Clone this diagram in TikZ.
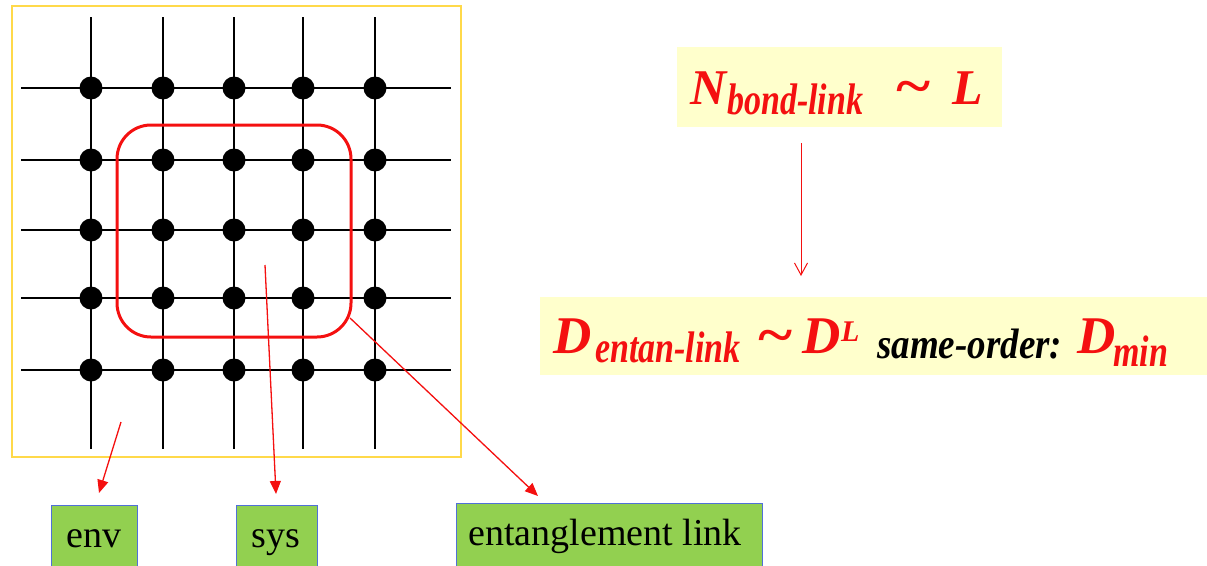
\documentclass[tikz,border=0pt]{standalone}
\usepackage{graphicx}
\usepackage{fontspec}
\setmainfont{Liberation Serif}
\usetikzlibrary{arrows.meta}
\definecolor{lred}{HTML}{F41010}
\definecolor{boxyel}{HTML}{FFFFCC}
\definecolor{frameyel}{HTML}{FFD94A}
\definecolor{lgreen}{HTML}{92D050}
\definecolor{lblue}{HTML}{5070D8}
\newcommand{\mainsym}[1]{{\fontsize{50}{50}\selectfont #1}}
\newcommand{\subtxt}[1]{\scalebox{1}[1.3]{\fontsize{34}{34}\selectfont #1}}
\newcommand{\wtilde}{\scalebox{1.3}[1.1]{\fontsize{50}{50}\selectfont\textasciitilde}}
\begin{document}
\begin{tikzpicture}[x=1pt,y=-1pt,
  gridline/.style={line width=2.6pt,black},
  dot/.style={circle,fill=black,minimum size=23pt,inner sep=0pt},
  label box/.style={draw=lblue,line width=1pt,fill=lgreen,inner sep=0pt},
  label text/.style={inner sep=0pt,anchor=base,font=\fontsize{38}{38}\selectfont},
  formula box/.style={fill=boxyel,inner sep=0pt},
  pointer/.style={draw=lred,line width=1.3pt,-{Triangle[length=13pt,width=11pt]},fill=lred},
  formula/.style={text=lred,font=\bfseries\itshape,inner sep=0pt,anchor=base west}]
\useasboundingbox (0,0) rectangle (1207,565);
% frame
\draw[frameyel,line width=1.6pt] (12,6) rectangle (461,457);
% grid
\foreach \y in {88,160,230,298,370} \draw[gridline] (21,\y) -- (451,\y);
\foreach \x in {91,163,234,303,375} \draw[gridline] (\x,17) -- (\x,449);
\foreach \x/\i in {91/1,163/2,234/3,303/4,375/5}
  \foreach \y/\j in {88/1,160/2,230/3,298/4,370/5}
    \node[dot] (d\i\j) at (\x,\y) {};
% system region
\draw[lred,line width=3pt,rounded corners=34pt] (117,125) rectangle (351,337);
% label boxes
\node[label box,minimum width=86pt,minimum height=62pt,anchor=north west] (env) at (51,505) {};
\node[label text] (envt) at (94,547) {env};
\node[label box,minimum width=81pt,minimum height=62pt,anchor=north west] (sys) at (236,505) {};
\node[label text] (syst) at (276,547) {sys};
\node[label box,minimum width=306pt,minimum height=64pt,anchor=north west] (ent) at (456,503) {};
\node[label text] (entt) at (605,545) {entanglement link};
% pointers
\coordinate (envs) at (121,422);
\coordinate (syss) at (265,265);
\coordinate (ents) at (350,318);
\coordinate (envtip) at (99,493);
\coordinate (systip) at (276,494);
\coordinate (enttip) at (538,496);
\draw[pointer] (envs) -- (envtip);
\draw[pointer] (syss) -- (systip);
\draw[pointer] (ents) -- (enttip);
% upper formula
\node[formula box,minimum width=325pt,minimum height=80pt,anchor=north west] (nb) at (677,47) {};
\node[formula] (n1) at (690,104) {\mainsym{N}};
\node[formula] (n2) at (727,114) {\subtxt{bond-link}};
\node[formula] (n3) at (894,104) {\wtilde};
\node[formula] (n4) at (952,104) {\mainsym{L}};
% lower formula
\node[formula box,minimum width=667pt,minimum height=78pt,anchor=north west] (db) at (540,297) {};
\node[formula] (d1) at (553,353) {{\fontsize{53}{53}\selectfont D}};
\node[formula] (d2) at (595,362) {\subtxt{entan-link}};
\node[formula] (d3) at (756,353) {\wtilde};
\node[formula] (d4) at (802,353) {{\fontsize{53}{53}\selectfont D}};
\node[formula] (d5) at (841,341) {{\fontsize{30}{30}\selectfont L}};
\node[formula,text=black] (d6) at (877,358) {\scalebox{1}[1.15]{\fontsize{37}{37}\selectfont same-order:}};
\node[formula] (d7) at (1077,353) {{\fontsize{53}{53}\selectfont D}};
\node[formula] (d8) at (1113,366) {\subtxt{min}};
% implication arrow
\coordinate (ars) at (801,143);
\coordinate (art) at (801,276);
\draw[lred,line width=1pt,-{Straight Barb[length=12pt,width=13pt]}] (ars) -- (art);
\end{tikzpicture}
\end{document}
